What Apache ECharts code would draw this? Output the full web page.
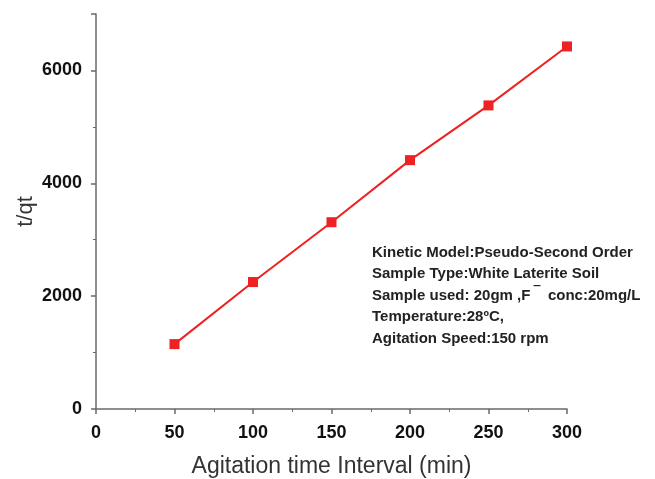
<!DOCTYPE html>
<html>
<head>
<meta charset="utf-8">
<script src="https://cdn.jsdelivr.net/npm/echarts@6/dist/echarts.min.js"></script>
<style>html,body{margin:0;padding:0;background:#fff}#c{width:655px;height:479px}</style>
</head>
<body>
<div id="c"></div>
<script>
var times = [50, 100, 150, 200, 250, 300];
var tqt = [1150, 2250, 3310, 4410, 5380, 6425];
var xTicks = [0, 50, 100, 150, 200, 250, 300];
var yTicks = [0, 2000, 4000, 6000];
var infoLines = [
  'Kinetic Model:Pseudo-Second Order',
  'Sample Type:White Laterite Soil',
  'Sample used: 20gm ,F {s|\u203E}  conc:20mg/L',
  'Temperature:28\u00BAC,',
  'Agitation Speed:150 rpm'
];

var chart = echarts.init(document.getElementById('c'), null, {renderer: 'canvas'});
var axisColor = '#6a6a6a';
chart.setOption({
  animation: false,
  backgroundColor: '#fff',
  grid: {left: 96, right: 88, top: 14, bottom: 70, containLabel: false, outerBoundsMode: 'none'},
  xAxis: {
    type: 'value', min: 0, max: 300, interval: 50,
    name: 'Agitation time Interval (min)', nameLocation: 'middle', nameGap: 46, nameMoveOverlap: false,
    nameTextStyle: {fontFamily: 'Liberation Sans', fontSize: 23, color: '#333'},
    axisLine: {show: true, lineStyle: {color: axisColor, width: 1.5}},
    axisTick: {show: true, length: 5, lineStyle: {color: axisColor, width: 1.5}},
    minorTick: {show: true, splitNumber: 2, length: 3, lineStyle: {color: axisColor, width: 1}},
    splitLine: {show: false},
    axisLabel: {fontFamily: 'Liberation Sans', fontWeight: 'bold', fontSize: 18, color: '#111', margin: 15,
      formatter: function (v) { return xTicks.indexOf(v) >= 0 ? String(v) : ''; }}
  },
  yAxis: {
    type: 'value', min: 0, max: 7000, interval: 2000,
    name: 't/qt', nameLocation: 'middle', nameGap: 59, nameRotate: 90, nameMoveOverlap: false,
    nameTextStyle: {fontFamily: 'Liberation Sans', fontSize: 22, color: '#333'},
    axisLine: {show: true, lineStyle: {color: axisColor, width: 1.5}},
    axisTick: {show: true, length: 5, lineStyle: {color: axisColor, width: 1.5}},
    minorTick: {show: true, splitNumber: 2, length: 3, lineStyle: {color: axisColor, width: 1}},
    splitLine: {show: false},
    axisLabel: {fontFamily: 'Liberation Sans', fontWeight: 'bold', fontSize: 18, color: '#111', margin: 14,
      formatter: function (v) { return yTicks.indexOf(v) >= 0 ? String(v) : ''; }}
  },
  series: [{
    type: 'line',
    data: times.map(function (t, i) { return [t, tqt[i]]; }),
    symbol: 'rect', symbolSize: 10,
    lineStyle: {color: '#ee2020', width: 2},
    itemStyle: {color: '#ee2222'}
  }],
  graphic: [{
    type: 'text', left: 372, top: 242,
    style: {
      text: infoLines.join('\n'),
      font: 'bold 15px "Liberation Sans", Arial, sans-serif',
      fill: '#222', lineHeight: 21.5,
      rich: {s: {font: 'bold 15px "Liberation Sans"', fill: '#222', verticalAlign: 'top', lineHeight: 21.5}}
    }
  }]
});
</script>
</body>
</html>
